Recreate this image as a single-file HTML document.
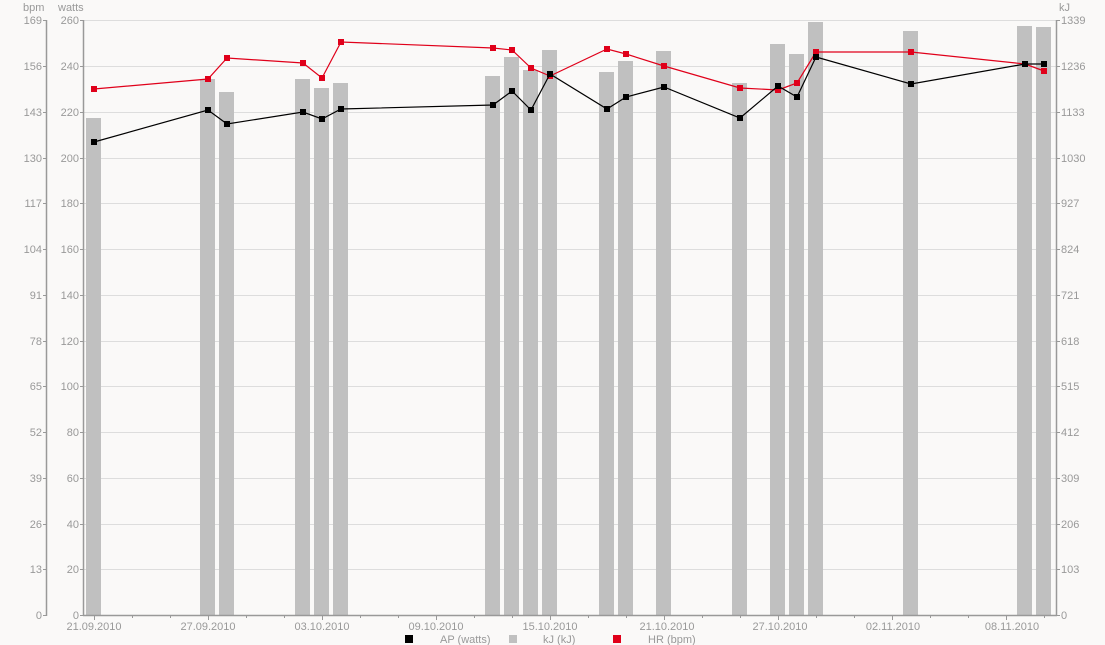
<!DOCTYPE html>
<html><head><meta charset="utf-8"><style>
html,body{margin:0;padding:0;background:#faf9f8;}
svg{display:block;font-family:"Liberation Sans",sans-serif;}
text{fill:#999;font-size:11px;}
</style></head><body>
<svg width="1105" height="645" xmlns="http://www.w3.org/2000/svg">
<rect width="1105" height="645" fill="#faf9f8"/>
<g stroke="#ddd" stroke-width="1">
<line x1="84" x2="1056" y1="20.5" y2="20.5"/>
<line x1="84" x2="1056" y1="66.5" y2="66.5"/>
<line x1="84" x2="1056" y1="112.5" y2="112.5"/>
<line x1="84" x2="1056" y1="158.5" y2="158.5"/>
<line x1="84" x2="1056" y1="203.5" y2="203.5"/>
<line x1="84" x2="1056" y1="249.5" y2="249.5"/>
<line x1="84" x2="1056" y1="295.5" y2="295.5"/>
<line x1="84" x2="1056" y1="341.5" y2="341.5"/>
<line x1="84" x2="1056" y1="386.5" y2="386.5"/>
<line x1="84" x2="1056" y1="432.5" y2="432.5"/>
<line x1="84" x2="1056" y1="478.5" y2="478.5"/>
<line x1="84" x2="1056" y1="524.5" y2="524.5"/>
<line x1="84" x2="1056" y1="569.5" y2="569.5"/>
</g>
<g fill="#c0c0c0">
<rect x="86" y="118" width="15" height="497"/>
<rect x="200" y="79" width="15" height="536"/>
<rect x="219" y="92" width="15" height="523"/>
<rect x="295" y="79" width="15" height="536"/>
<rect x="314" y="88" width="15" height="527"/>
<rect x="333" y="83" width="15" height="532"/>
<rect x="485" y="76" width="15" height="539"/>
<rect x="504" y="57" width="15" height="558"/>
<rect x="523" y="70" width="15" height="545"/>
<rect x="542" y="50" width="15" height="565"/>
<rect x="599" y="72" width="15" height="543"/>
<rect x="618" y="61" width="15" height="554"/>
<rect x="656" y="51" width="15" height="564"/>
<rect x="732" y="83" width="15" height="532"/>
<rect x="770" y="44" width="15" height="571"/>
<rect x="789" y="54" width="15" height="561"/>
<rect x="808" y="22" width="15" height="593"/>
<rect x="903" y="31" width="15" height="584"/>
<rect x="1017" y="26" width="15" height="589"/>
<rect x="1036" y="27" width="15" height="588"/>
</g>
<polyline fill="none" stroke="#e0001a" stroke-width="1.2" points="94,89 208,79 227,58 303,63 322,78 341,42 493,48 512,50 531,68 550,76 607,49 626,54 664,66 740,88 778,90 797,83 816,52 911,52 1025,64 1044,71"/>
<g fill="#e0001a">
<rect x="91" y="86" width="6" height="6"/><rect x="205" y="76" width="6" height="6"/><rect x="224" y="55" width="6" height="6"/><rect x="300" y="60" width="6" height="6"/><rect x="319" y="75" width="6" height="6"/><rect x="338" y="39" width="6" height="6"/><rect x="490" y="45" width="6" height="6"/><rect x="509" y="47" width="6" height="6"/><rect x="528" y="65" width="6" height="6"/><rect x="547" y="73" width="6" height="6"/><rect x="604" y="46" width="6" height="6"/><rect x="623" y="51" width="6" height="6"/><rect x="661" y="63" width="6" height="6"/><rect x="737" y="85" width="6" height="6"/><rect x="775" y="87" width="6" height="6"/><rect x="794" y="80" width="6" height="6"/><rect x="813" y="49" width="6" height="6"/><rect x="908" y="49" width="6" height="6"/><rect x="1022" y="61" width="6" height="6"/><rect x="1041" y="68" width="6" height="6"/>
</g>
<polyline fill="none" stroke="#000" stroke-width="1.2" points="94,142 208,110 227,124 303,112 322,119 341,109 493,105 512,91 531,110 550,74 607,109 626,97 664,87 740,118 778,86 797,97 816,57 911,84 1025,64 1044,64"/>
<g fill="#000">
<rect x="91" y="139" width="6" height="6"/><rect x="205" y="107" width="6" height="6"/><rect x="224" y="121" width="6" height="6"/><rect x="300" y="109" width="6" height="6"/><rect x="319" y="116" width="6" height="6"/><rect x="338" y="106" width="6" height="6"/><rect x="490" y="102" width="6" height="6"/><rect x="509" y="88" width="6" height="6"/><rect x="528" y="107" width="6" height="6"/><rect x="547" y="71" width="6" height="6"/><rect x="604" y="106" width="6" height="6"/><rect x="623" y="94" width="6" height="6"/><rect x="661" y="84" width="6" height="6"/><rect x="737" y="115" width="6" height="6"/><rect x="775" y="83" width="6" height="6"/><rect x="794" y="94" width="6" height="6"/><rect x="813" y="54" width="6" height="6"/><rect x="908" y="81" width="6" height="6"/><rect x="1022" y="61" width="6" height="6"/><rect x="1041" y="61" width="6" height="6"/>
</g>
<g stroke="#999" stroke-width="1.5" fill="none">
<line x1="46.5" y1="20" x2="46.5" y2="616"/>
<line x1="83.5" y1="20" x2="83.5" y2="616"/>
<line x1="1056.5" y1="20" x2="1056.5" y2="616"/>
<line x1="83" y1="615.5" x2="1057" y2="615.5"/>
</g>
<g stroke="#999" stroke-width="1">
<path d="M43 20.5h3M43 66.5h3M43 112.5h3M43 158.5h3M43 203.5h3M43 249.5h3M43 295.5h3M43 341.5h3M43 386.5h3M43 432.5h3M43 478.5h3M43 524.5h3M43 569.5h3M43 615.5h3"/>
<path d="M80 20.5h3M80 66.5h3M80 112.5h3M80 158.5h3M80 203.5h3M80 249.5h3M80 295.5h3M80 341.5h3M80 386.5h3M80 432.5h3M80 478.5h3M80 524.5h3M80 569.5h3M80 615.5h3"/>
<path d="M1057 20.5h3M1057 66.5h3M1057 112.5h3M1057 158.5h3M1057 203.5h3M1057 249.5h3M1057 295.5h3M1057 341.5h3M1057 386.5h3M1057 432.5h3M1057 478.5h3M1057 524.5h3M1057 569.5h3M1057 615.5h3"/>
<path d="M94.5 616v4M132.5 616v2M170.5 616v2M208.5 616v4M246.5 616v2M284.5 616v2M322.5 616v4M360.5 616v2M398.5 616v2M436.5 616v4M474.5 616v2M512.5 616v2M550.5 616v4M588.5 616v2M626.5 616v2M664.5 616v4M702.5 616v2M740.5 616v2M778.5 616v4M816.5 616v2M854.5 616v2M892.5 616v4M930.5 616v2M968.5 616v2M1006.5 616v4M1044.5 616v2"/>
</g>
<g text-anchor="end">
<text x="42" y="24">169</text><text x="42" y="70">156</text><text x="42" y="116">143</text><text x="42" y="162">130</text><text x="42" y="207">117</text><text x="42" y="253">104</text><text x="42" y="299">91</text><text x="42" y="345">78</text><text x="42" y="390">65</text><text x="42" y="436">52</text><text x="42" y="482">39</text><text x="42" y="528">26</text><text x="42" y="573">13</text><text x="42" y="619">0</text>
<text x="79" y="24">260</text><text x="79" y="70">240</text><text x="79" y="116">220</text><text x="79" y="162">200</text><text x="79" y="207">180</text><text x="79" y="253">160</text><text x="79" y="299">140</text><text x="79" y="345">120</text><text x="79" y="390">100</text><text x="79" y="436">80</text><text x="79" y="482">60</text><text x="79" y="528">40</text><text x="79" y="573">20</text><text x="79" y="619">0</text>
</g>
<g text-anchor="start">
<text x="1061" y="24">1339</text><text x="1061" y="70">1236</text><text x="1061" y="116">1133</text><text x="1061" y="162">1030</text><text x="1061" y="207">927</text><text x="1061" y="253">824</text><text x="1061" y="299">721</text><text x="1061" y="345">618</text><text x="1061" y="390">515</text><text x="1061" y="436">412</text><text x="1061" y="482">309</text><text x="1061" y="528">206</text><text x="1061" y="573">103</text><text x="1061" y="619">0</text>
<text x="1059" y="11">kJ</text>
</g>
<text x="23" y="11" font-size="10">bpm</text>
<text x="58" y="11" font-size="10">watts</text>
<g text-anchor="middle">
<text x="94" y="630">21.09.2010</text><text x="208" y="630">27.09.2010</text><text x="322" y="630">03.10.2010</text><text x="436" y="630">09.10.2010</text><text x="550" y="630">15.10.2010</text><text x="667" y="630">21.10.2010</text><text x="780" y="630">27.10.2010</text><text x="893" y="630">02.11.2010</text><text x="1012" y="630">08.11.2010</text>
</g>
<rect x="405" y="635" width="8" height="8" fill="#000"/>
<text x="440" y="643" font-size="10">AP (watts)</text>
<rect x="509" y="635" width="8" height="8" fill="#c0c0c0"/>
<text x="543" y="643" font-size="10">kJ (kJ)</text>
<rect x="613" y="635" width="8" height="8" fill="#e0001a"/>
<text x="648" y="643" font-size="10">HR (bpm)</text>
</svg>
</body></html>
